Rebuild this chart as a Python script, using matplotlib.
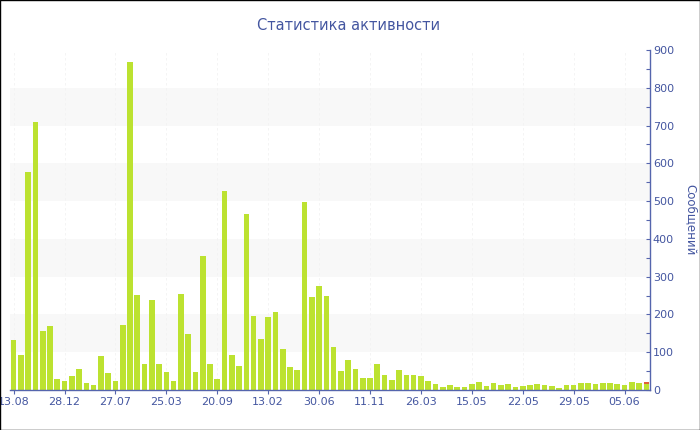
import matplotlib.pyplot as plt
from matplotlib.patches import Rectangle
import numpy as np

# messages per week (green), and a small second series (red) stacked on top
messages = [132, 93, 576, 709, 155, 169, 29, 23, 38, 55,
            19, 13, 91, 46, 23, 171, 869, 251, 68, 239,
            70, 47, 23, 254, 147, 47, 356, 69, 28, 528,
            93, 63, 467, 196, 134, 193, 206, 109, 60, 53,
            497, 247, 275, 250, 113, 51, 79, 56, 32, 31,
            68, 39, 26, 53, 39, 41, 37, 24, 15, 9,
            14, 8, 7, 16, 21, 11, 18, 12, 16, 9,
            10, 14, 17, 12, 10, 5, 14, 12, 19, 19,
            15, 19, 18, 17, 12, 22, 18, 17]
extra = [0] * 87 + [5]
tick_labels = ['13.08', '28.12', '27.07', '25.03', '20.09', '13.02', '30.06',
               '11.11', '26.03', '15.05', '22.05', '29.05', '05.06']
tick_step = 7

text_col = '#4456a0'
axis_col = '#5565ad'

fig = plt.figure(figsize=(7, 4.3), dpi=100)
ax = fig.add_axes([10 / 700, 40 / 430, 640 / 700, 340 / 430])

x = np.arange(len(messages))

# alternating bands
for lo in (100, 300, 500, 700):
    ax.axhspan(lo, lo + 100, color='#f8f8f8', lw=0, zorder=0)

ax.bar(x, messages, width=0.78, color='#bce230', zorder=2)
ax.bar(x, extra, width=0.78, bottom=messages, color='#e0603a', zorder=2)

ticks = x[::tick_step]
for t in ticks:
    ax.axvline(t, color='#f3f3f3', lw=0.6, ls=(0, (3, 3)), zorder=1)

ax.set_xlim(-0.5, len(messages) - 0.5)
ax.set_ylim(0, 900)
ax.set_xticks(ticks)
ax.set_xticklabels(tick_labels)

ax.yaxis.tick_right()
ax.yaxis.set_label_position('right')
ax.set_yticks(np.arange(0, 901, 100))
ax.set_yticks(np.arange(50, 900, 100), minor=True)
ax.tick_params(axis='y', which='both', direction='in', length=3, width=0.8,
               color=axis_col, labelcolor=text_col, labelsize=8, pad=2)
ax.tick_params(axis='x', direction='out', length=3, width=0.8,
               color=axis_col, labelcolor=text_col, labelsize=8, pad=2)

for side in ('top', 'left'):
    ax.spines[side].set_visible(False)
for side in ('bottom', 'right'):
    ax.spines[side].set_color(axis_col)
    ax.spines[side].set_linewidth(1)

ax.set_ylabel('Сообщений', color=text_col, fontsize=8.5, rotation=270, labelpad=17)
fig.text(349 / 700, 1 - 25 / 430, 'Статистика активности', color=text_col,
         fontsize=10.5, ha='center', va='center')

# black frame around the whole picture
fig.patches.append(Rectangle((0, 0), 1, 1, transform=fig.transFigure,
                             fill=False, edgecolor='black', lw=1))

fig.savefig('out.png', dpi=100)
